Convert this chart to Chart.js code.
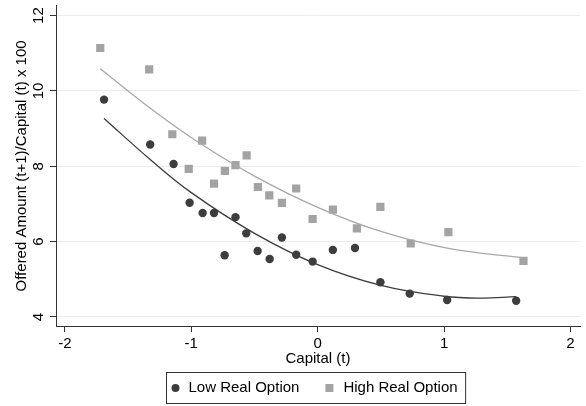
<!DOCTYPE html>
<html>
<head>
<meta charset="utf-8">
<script src="https://cdn.jsdelivr.net/npm/chart.js@4.4.1/dist/chart.umd.min.js"></script>
<style>
  html, body { margin: 0; padding: 0; background: #fff; }
  canvas { display: block; }
</style>
</head>
<body>
<canvas id="chart" width="586" height="406"></canvas>
<script>
// binned scatter: capital (t) vs offered amount (t+1)/capital (t) x 100
const lowX  = [-1.69, -1.325, -1.14, -1.013, -0.91, -0.82, -0.736, -0.65, -0.565, -0.475,
               -0.38, -0.283, -0.17, -0.04, 0.12, 0.295, 0.496, 0.728, 1.024, 1.57];
const lowY  = [9.77, 8.58, 8.06, 7.03, 6.76, 6.76, 5.64, 6.65, 6.22, 5.75,
               5.54, 6.11, 5.65, 5.47, 5.78, 5.83, 4.92, 4.62, 4.45, 4.43];
const highX = [-1.72, -1.333, -1.15, -1.02, -0.914, -0.82, -0.734, -0.65, -0.562, -0.473,
               -0.383, -0.283, -0.17, -0.04, 0.12, 0.31, 0.496, 0.736, 1.034, 1.628];
const highY = [11.14, 10.57, 8.85, 7.93, 8.68, 7.54, 7.88, 8.03, 8.29, 7.45,
               7.23, 7.03, 7.41, 6.60, 6.85, 6.35, 6.92, 5.95, 6.25, 5.49];

// quadratic fit lines (fitted on the underlying firm data), sampled along x
const lowFitX  = [-1.69, -1.325, -1.0, -0.5, 0, 0.5, 1.0, 1.28, 1.57];
const lowFitY  = [9.27, 8.18, 7.30, 6.22, 5.39, 4.84, 4.55, 4.50, 4.54];
const highFitX = [-1.72, -1.3, -0.932, -0.5, 0, 0.5, 1.034, 1.628];
const highFitY = [10.59, 9.48, 8.61, 7.74, 6.91, 6.27, 5.82, 5.57];

const xTicks = [-2, -1, 0, 1, 2];
const yTicks = [4, 6, 8, 10, 12];
const seriesNames = ["Low Real Option", "High Real Option"];
const xTitle = "Capital (t)";
const yTitle = "Offered Amount (t+1)/Capital (t) x 100";

const FONT = '"Liberation Sans", Arial, Helvetica, sans-serif';
const DARK = "#3d3d3d";
const LIGHT = "#a3a3a3";

const toPoints = (xs, ys) => xs.map((x, i) => ({ x: x, y: ys[i] }));

// y tick labels (rotated), axis titles and boxed legend
const decorations = {
    id: "decorations",
    afterDraw(chart) {
        const ctx = chart.ctx;
        const area = chart.chartArea;
        const yScale = chart.scales.y;
        ctx.save();
        ctx.fillStyle = "#000";
        ctx.font = "15px " + FONT;
        ctx.textAlign = "center";
        ctx.textBaseline = "middle";

        yTicks.forEach(v => {
            ctx.save();
            ctx.translate(39, yScale.getPixelForValue(v));
            ctx.rotate(-Math.PI / 2);
            ctx.fillText(String(v), 0, 0);
            ctx.restore();
        });

        ctx.save();
        ctx.translate(21.5, (area.top + area.bottom) / 2);
        ctx.rotate(-Math.PI / 2);
        ctx.fillText(yTitle, 0, 0);
        ctx.restore();

        ctx.fillText(xTitle, (area.left + area.right) / 2, 359);

        // legend
        const w0 = ctx.measureText(seriesNames[0]).width;
        const w1 = ctx.measureText(seriesNames[1]).width;
        const boxW = 9 + 13 + w0 + 30 + 14 + w1 + 8;
        const boxL = Math.round((area.left + area.right) / 2 - boxW / 2 - 2) + 0.5;
        const boxT = 372.5, boxH = 31;
        const cy = boxT + boxH / 2;
        ctx.strokeStyle = "#333";
        ctx.lineWidth = 1;
        ctx.strokeRect(boxL, boxT, boxW, boxH);

        let x = boxL + 9;
        ctx.fillStyle = DARK;
        ctx.beginPath();
        ctx.arc(x, cy, 4, 0, Math.PI * 2);
        ctx.fill();
        ctx.fillStyle = "#000";
        ctx.textAlign = "left";
        ctx.fillText(seriesNames[0], x + 13, cy);
        x += 13 + w0 + 30;
        ctx.fillStyle = LIGHT;
        ctx.fillRect(x - 4, cy - 4, 8, 8);
        ctx.fillStyle = "#000";
        ctx.fillText(seriesNames[1], x + 14, cy);
        ctx.restore();
    }
};

new Chart(document.getElementById("chart"), {
    type: "scatter",
    data: {
        datasets: [
            {
                label: "fit low",
                data: toPoints(lowFitX, lowFitY),
                showLine: true,
                pointRadius: 0,
                borderColor: DARK,
                borderWidth: 1.3,
                tension: 0.4
            },
            {
                label: "fit high",
                data: toPoints(highFitX, highFitY),
                showLine: true,
                pointRadius: 0,
                borderColor: "#a8a8a8",
                borderWidth: 1.3,
                tension: 0.4
            },
            {
                label: seriesNames[0],
                data: toPoints(lowX, lowY),
                pointStyle: "circle",
                pointRadius: 4.2,
                backgroundColor: DARK,
                borderWidth: 0
            },
            {
                label: seriesNames[1],
                data: toPoints(highX, highY),
                pointStyle: "rect",
                pointRadius: 5.8,
                backgroundColor: LIGHT,
                borderWidth: 0
            }
        ]
    },
    options: {
        responsive: false,
        animation: false,
        layout: { padding: { top: 3, right: 6, left: 0, bottom: 0 } },
        plugins: {
            legend: { display: false },
            tooltip: { enabled: false }
        },
        scales: {
            x: {
                type: "linear",
                min: -2.07,
                max: 2.075,
                afterBuildTicks: s => { s.ticks = xTicks.map(v => ({ value: v })); },
                afterFit: s => { s.height = 80; },
                grid: { drawOnChartArea: false, drawTicks: true, tickLength: 6, tickColor: "#333" },
                border: { color: "#333", width: 1 },
                ticks: {
                    color: "#000",
                    font: { family: FONT, size: 15 },
                    padding: 3,
                    maxRotation: 0,
                    callback: v => String(v)
                }
            },
            y: {
                type: "linear",
                min: 3.76,
                max: 12.26,
                afterBuildTicks: s => { s.ticks = yTicks.map(v => ({ value: v })); },
                afterFit: s => { s.width = 56; },
                grid: { color: "#e9efef", lineWidth: 1, drawTicks: true, tickLength: 6, tickColor: "#333" },
                border: { color: "#333", width: 1 },
                ticks: { display: false }
            }
        }
    },
    plugins: [decorations]
});
</script>
</body>
</html>
